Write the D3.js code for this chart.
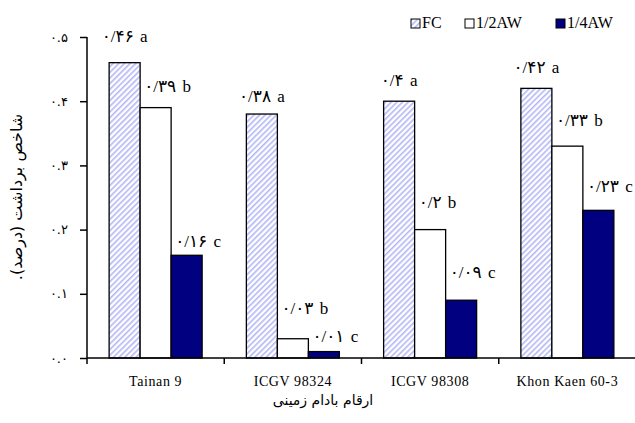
<!DOCTYPE html>
<html>
<head>
<meta charset="utf-8">
<script src="https://cdn.jsdelivr.net/npm/d3@7"></script>
<style>
  body { margin: 0; background: #fff; }
  svg { display: block; }
  .axis path, .axis line { stroke: #000; stroke-width: 1.5; }
  text { font-weight: normal; }
</style>
</head>
<body>
<svg></svg>
<script>
// data
var cultivars = ["Tainan 9", "ICGV 98324", "ICGV 98308", "Khon Kaen 60-3"];
var series = ["FC", "1/2AW", "1/4AW"];
var fcValues = [0.46, 0.38, 0.40, 0.42];
var halfValues = [0.39, 0.03, 0.20, 0.33];
var quarterValues = [0.16, 0.01, 0.09, 0.23];
var groupLetters = ["a", "b", "c"];
var yTicks = [0, 0.1, 0.2, 0.3, 0.4, 0.5];

// label lift above bar top, per series / cultivar (hand placed in the original)
var labelLift = [[21, 12, 15, 15], [16, 25, 22, 20], [8, 10, 22, 18]];

var width = 635, height = 423;
var margin = {top: 37, right: 0, bottom: 65, left: 87};

var svg = d3.select("svg")
    .attr("width", width)
    .attr("height", height);

var defs = svg.append("defs");
var pat = defs.append("pattern")
    .attr("id", "hatch")
    .attr("patternUnits", "userSpaceOnUse")
    .attr("width", 4)
    .attr("height", 4)
    .attr("patternTransform", "rotate(45)");
pat.append("rect").attr("width", 4).attr("height", 4).attr("fill", "#fff");
pat.append("rect").attr("width", 1.6).attr("height", 4).attr("fill", "#b3b7f6");

var fills = ["url(#hatch)", "#ffffff", "#000080"];

var x0 = d3.scaleBand()
    .domain(cultivars)
    .range([margin.left, width + 1])
    .padding(0);

var groupW = 93;
var x1 = d3.scaleBand()
    .domain(series)
    .range([(x0.bandwidth() - groupW) / 2, (x0.bandwidth() + groupW) / 2])
    .padding(0);

var y = d3.scaleLinear()
    .domain([0, 0.5])
    .range([height - margin.bottom, margin.top]);

var persian = "۰۱۲۳۴۵۶۷۸۹";
function toFa(s) {
    return s.replace(/[0-9]/g, function(c) { return persian[+c]; });
}

var allValues = [fcValues, halfValues, quarterValues];
var rows = [];
series.forEach(function(s, si) {
    cultivars.forEach(function(c, ci) {
        rows.push({series: s, si: si, cultivar: c, ci: ci, value: allValues[si][ci]});
    });
});

// bars
svg.append("g")
    .selectAll("rect")
    .data(rows)
    .enter()
    .append("rect")
    .attr("x", function(d) { return x0(d.cultivar) + x1(d.series); })
    .attr("y", function(d) { return y(d.value); })
    .attr("width", x1.bandwidth())
    .attr("height", function(d) { return y(0) - y(d.value); })
    .attr("fill", function(d) { return fills[d.si]; })
    .attr("stroke", "#000")
    .attr("stroke-width", 1.3);

// value labels
svg.append("g")
    .selectAll("text")
    .data(rows)
    .enter()
    .append("text")
    .attr("x", function(d) {
        var left = x0(d.cultivar) + x1(d.series);
        return d.si == 0 ? left + x1.bandwidth() / 2 : left + 4;
    })
    .attr("y", function(d) { return y(d.value) - labelLift[d.si][d.ci]; })
    .attr("text-anchor", function(d) { return d.si == 0 ? "middle" : "start"; })
    .attr("font-family", "Liberation Serif, DejaVu Sans")
    .attr("font-size", 17)
    .attr("word-spacing", 2)
    .attr("fill", "#000")
    .text(function(d) {
        return toFa(String(d.value).replace(".", "/")) + " " + groupLetters[d.si];
    });

// y axis
var yAxis = svg.append("g")
    .attr("class", "axis")
    .attr("transform", "translate(" + margin.left + ",0)")
    .call(d3.axisLeft(y)
        .tickValues(yTicks)
        .tickSize(7)
        .tickPadding(12)
        .tickFormat(function(d) { return toFa(d3.format(".1f")(d)); }));
yAxis.selectAll("text")
    .attr("font-family", "DejaVu Sans")
    .attr("font-size", 13)
    .attr("fill", "#000");
yAxis.select(".domain").attr("d", "M-0," + y(0.5) + "V" + y(0));

// x axis
var xAxis = svg.append("g")
    .attr("class", "axis")
    .attr("transform", "translate(0," + y(0) + ")")
    .call(d3.axisBottom(x0).tickSize(0).tickPadding(18));
xAxis.select(".domain").attr("d", "M" + margin.left + ",0H" + (width + 1));
xAxis.selectAll("text")
    .attr("font-family", "Liberation Serif")
    .attr("font-size", 14)
    .attr("letter-spacing", 0.6)
    .attr("fill", "#000");
// ticks between groups
xAxis.selectAll(".sep")
    .data(cultivars)
    .enter()
    .append("line")
    .attr("x1", function(d) { return x0(d); })
    .attr("x2", function(d) { return x0(d); })
    .attr("y1", 0)
    .attr("y2", 6)
    .attr("stroke", "#000")
    .attr("stroke-width", 1.5);

// axis titles
svg.append("text")
    .attr("transform", "translate(22,197) rotate(-90)")
    .attr("text-anchor", "middle")
    .attr("direction", "rtl")
    .attr("font-family", "DejaVu Sans")
    .attr("font-size", 16)
    .text("شاخص برداشت (درصد).");

svg.append("text")
    .attr("x", 323)
    .attr("y", 405)
    .attr("text-anchor", "middle")
    .attr("direction", "rtl")
    .attr("font-family", "DejaVu Sans")
    .attr("font-size", 14)
    .text("ارقام بادام زمینی");

// legend
var legendX = [411, 465, 556];
var legend = svg.append("g");
series.forEach(function(s, i) {
    var g = legend.append("g").attr("transform", "translate(" + legendX[i] + ",19)");
    g.append("rect")
        .attr("width", 9)
        .attr("height", 9)
        .attr("fill", fills[i])
        .attr("stroke", "#000")
        .attr("stroke-width", 1);
    g.append("text")
        .attr("x", 11)
        .attr("y", 9)
        .attr("font-family", "Liberation Serif")
        .attr("font-size", 16)
        .text(s);
});
</script>
</body>
</html>
